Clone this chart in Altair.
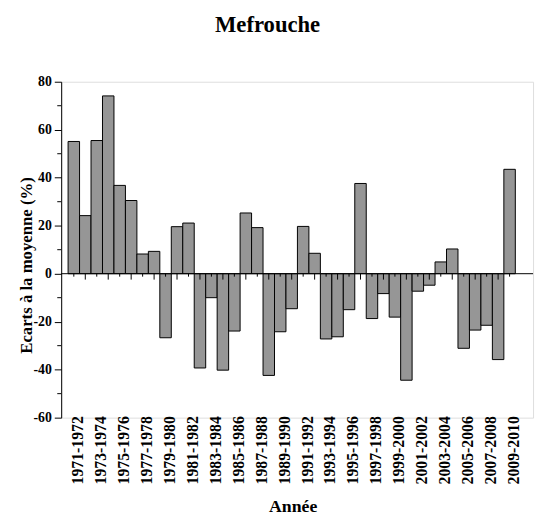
import altair as alt
import pandas as pd

periods = [
    "1971-1972", "1972-1973", "1973-1974", "1974-1975", "1975-1976", "1976-1977",
    "1977-1978", "1978-1979", "1979-1980", "1980-1981", "1981-1982", "1982-1983",
    "1983-1984", "1984-1985", "1985-1986", "1986-1987", "1987-1988", "1988-1989",
    "1989-1990", "1990-1991", "1991-1992", "1992-1993", "1993-1994", "1994-1995",
    "1995-1996", "1996-1997", "1997-1998", "1998-1999", "1999-2000", "2000-2001",
    "2001-2002", "2002-2003", "2003-2004", "2004-2005", "2005-2006", "2006-2007",
    "2007-2008", "2008-2009", "2009-2010",
]
values = [
    55.1, 24.2, 55.5, 74.1, 36.8, 30.5, 8.2, 9.3, -26.7, 19.6,
    21.1, -39.3, -10.0, -40.2, -23.9, 25.3, 19.2, -42.4, -24.2, -14.6,
    19.7, 8.5, -27.2, -26.3, -15.0, 37.6, -18.7, -8.3, -18.1, -44.4,
    -7.3, -4.8, 4.9, 10.3, -31.1, -23.5, -21.5, -35.8, 43.5,
]
y_major = [-60, -40, -20, 0, 20, 40, 60, 80]
y_minor = [-50, -30, -10, 10, 30, 50, 70]
shown_labels = periods[::2]

FONT = "Liberation Serif"
W, H = 479, 341

df = pd.DataFrame({"period": periods, "value": values})
df["idx"] = range(len(df))
short_df = df[df["idx"] % 2 == 0]
long_df = df[df["idx"] % 2 == 1]

x_scale = alt.Scale(domain=periods, paddingInner=0, paddingOuter=0, range=[7, 461])
y_scale = alt.Scale(domain=[-60, 80], nice=False, zero=False)

bars = alt.Chart(df).mark_bar(fill="#969696", stroke="black", strokeWidth=1).encode(
    x=alt.X(
        "period:N", sort=periods, scale=x_scale,
        axis=alt.Axis(
            values=shown_labels, labelAngle=270, labelAlign="right", labelBaseline="middle",
            labelFont=FONT, labelFontSize=16, labelFontWeight="bold", labelColor="black",
            labelPadding=-2, labelOffset=4.5, labelOverlap=False, labelBound=False,
            ticks=False, tickSize=0, domain=False, grid=False,
            title="Année", titleFont=FONT, titleFontSize=18, titleFontWeight="bold",
            titleColor="black", titleX=235, titleY=95, titleAlign="center",
            titleBaseline="alphabetic",
        ),
    ),
    y=alt.Y(
        "value:Q", scale=y_scale,
        axis=alt.Axis(
            values=y_major, labelExpr="'' + datum.value",
            labelFont=FONT, labelFontSize=14, labelFontWeight="bold", labelColor="black",
            labelPadding=3, tickSize=7, tickColor="black", tickWidth=1,
            domainColor="black", domainWidth=1, grid=False,
            title="Ecarts à la moyenne (%)", titleFont=FONT, titleFontSize=17,
            titleFontWeight="bold", titleColor="black", titleAngle=270,
            titleX=-30, titleY=186, titleAlign="center", titleBaseline="alphabetic",
        ),
    ),
)

zero_line = alt.Chart(pd.DataFrame({"z": [0]})).mark_rule(color="black", strokeWidth=1).encode(
    x=alt.value(0), x2=alt.value(W), y=alt.datum(0)
)

ticks_short = alt.Chart(short_df).mark_rule(color="black", strokeWidth=1, y2Offset=3).encode(
    x=alt.X("period:N", sort=periods, scale=x_scale), y=alt.datum(0), y2=alt.datum(0)
)
ticks_long = alt.Chart(long_df).mark_rule(color="black", strokeWidth=1, y2Offset=6).encode(
    x=alt.X("period:N", sort=periods, scale=x_scale), y=alt.datum(0), y2=alt.datum(0)
)

minor = alt.Chart(pd.DataFrame({"v": y_minor})).mark_rule(color="black", strokeWidth=1).encode(
    x=alt.value(-4), x2=alt.value(0), y=alt.Y("v:Q", scale=y_scale)
)

chart = alt.layer(bars, zero_line, ticks_short, ticks_long, minor).properties(
    width=W, height=H,
    padding={"left": 54, "top": 71, "right": 3, "bottom": 97},
    autosize=alt.AutoSizeParams(type="none"),
    title=alt.TitleParams(
        "Mefrouche", font=FONT, fontSize=23, fontWeight="bold", color="black",
        anchor="middle", frame="group", baseline="alphabetic", offset=21, dx=-30,
    ),
).configure_view(stroke=None).configure(background="white")

chart.save("out.html", embed_options={"renderer": "svg", "actions": False})
